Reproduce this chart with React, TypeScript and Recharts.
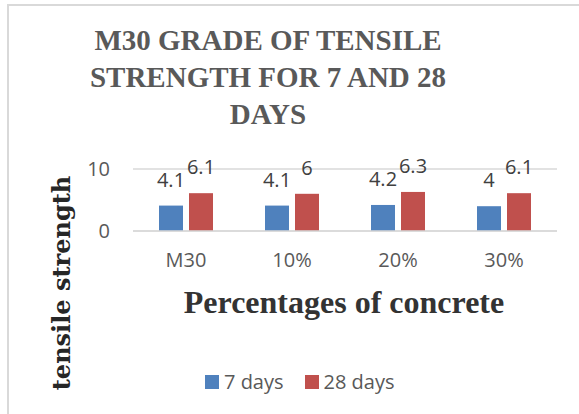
import { BarChart, Bar, XAxis, YAxis, CartesianGrid, Legend, LabelList } from "recharts";

const categories = ["M30", "10%", "20%", "30%"];
const days7 = [4.1, 4.1, 4.2, 4];
const days28 = [6.1, 6, 6.3, 6.1];
const yTicks = [0, 10];

const SERIES = [
  { key: "d7", name: "7 days", color: "#4F81BD" },
  { key: "d28", name: "28 days", color: "#C0504D" },
];

const data = categories.map((name, i) => ({ name, d7: days7[i], d28: days28[i] }));

const SANS = "'Open Sans', 'Liberation Sans', sans-serif";
const SERIF = "'Liberation Serif', 'Times New Roman', serif";

const LegendBox = () => (
  <div style={{ display: "flex", alignItems: "center", fontFamily: SANS, fontSize: 20, color: "#595959" }}>
    {SERIES.map((s, i) => (
      <div key={s.key} style={{ display: "flex", alignItems: "center", marginLeft: i ? 21 : 0 }}>
        <span style={{ width: 14, height: 14, background: s.color, display: "inline-block", marginRight: 5 }} />
        <span>{s.name}</span>
      </div>
    ))}
  </div>
);

const App = () => {
  return (
    <div style={{ position: "absolute", left: 0, top: 0, width: 579, height: 414, background: "#fff", overflow: "hidden" }}>
      <div
        style={{
          position: "absolute",
          left: 7,
          top: 4,
          width: 600,
          height: 420,
          borderTop: "2px solid #D9D9D9",
          borderLeft: "2px solid #D9D9D9",
        }}
      />
      <div
        style={{
          position: "absolute",
          left: 0,
          top: 22,
          width: 536,
          textAlign: "center",
          fontFamily: SERIF,
          fontWeight: "bold",
          fontSize: 29,
          lineHeight: "37px",
          color: "#595959",
        }}
      >
        M30 GRADE OF TENSILE
        <br />
        STRENGTH FOR 7 AND 28
        <br />
        DAYS
      </div>
      <div
        style={{
          position: "absolute",
          left: 61,
          top: 283,
          transform: "translate(-50%, -50%) rotate(-90deg)",
          whiteSpace: "nowrap",
          fontFamily: "'DejaVu Serif', serif",
          fontWeight: "bold",
          fontSize: 24,
          color: "#262626",
        }}
      >
        tensile strength
      </div>
      <div
        style={{
          position: "absolute",
          left: 344,
          top: 302,
          transform: "translate(-50%, -50%)",
          whiteSpace: "nowrap",
          fontFamily: SERIF,
          fontWeight: "bold",
          fontSize: 32,
          color: "#333333",
        }}
      >
        Percentages of concrete
      </div>
      <BarChart
        width={579}
        height={414}
        data={data}
        margin={{ top: 169, right: 22, bottom: 153, left: 0 }}
        barSize={24}
        barGap={6}
        style={{ position: "absolute", left: 0, top: 0 }}
      >
        <CartesianGrid vertical={false} stroke="#D9D9D9" strokeWidth={1.5} />
        <XAxis
          dataKey="name"
          axisLine={{ stroke: "#D9D9D9", strokeWidth: 1.5 }}
          tickLine={false}
          tickSize={0}
          tickMargin={22}
          height={30}
          tick={{ fill: "#595959", fontSize: 20, fontFamily: SANS }}
        />
        <YAxis
          width={133}
          domain={[0, 10]}
          ticks={yTicks}
          axisLine={false}
          tickLine={false}
          tickSize={0}
          tickMargin={23}
          tick={{ fill: "#595959", fontSize: 20, fontFamily: SANS }}
        />
        <Legend
          layout="horizontal"
          verticalAlign="middle"
          align="center"
          wrapperStyle={{ top: 368, left: 205, width: 220, height: 24 }}
          content={() => <LegendBox />}
        />
        {SERIES.map((s) => (
          <Bar key={s.key} dataKey={s.key} name={s.name} fill={s.color} isAnimationActive={false}>
            <LabelList
              dataKey={s.key}
              position="top"
              offset={19}
              fill="#404040"
              fontSize={20}
              fontFamily={SANS}
            />
          </Bar>
        ))}
      </BarChart>
    </div>
  );
};

export default App;
